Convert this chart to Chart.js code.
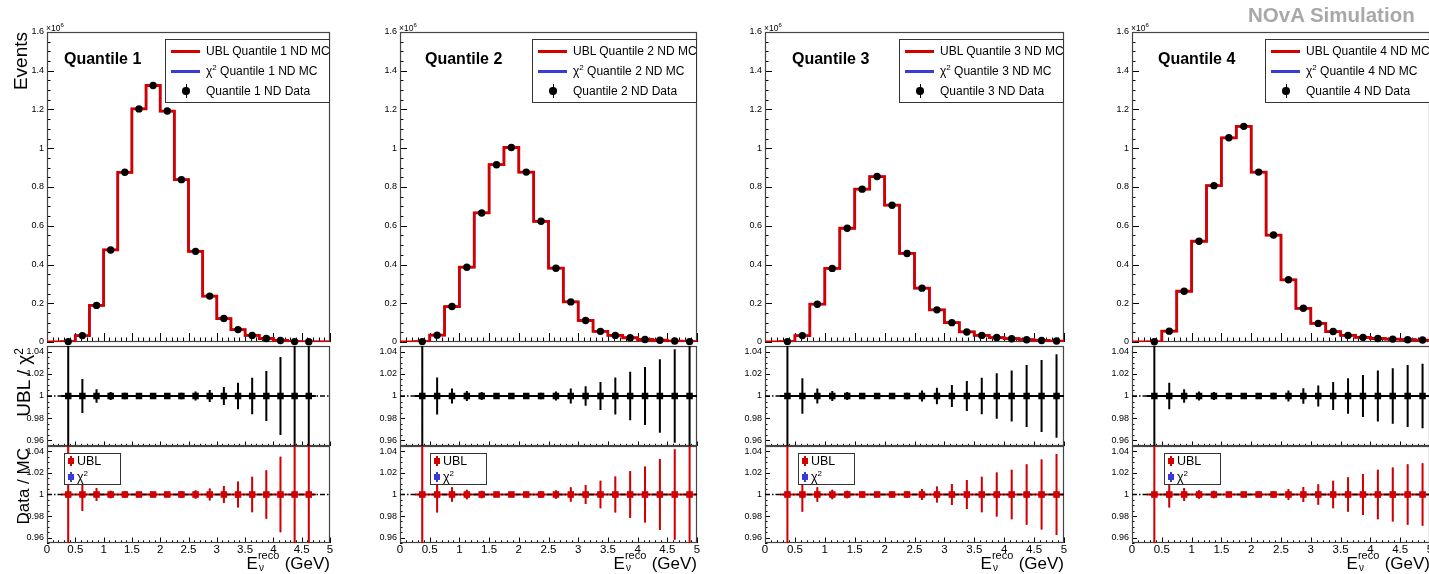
<!DOCTYPE html>
<html><head><meta charset="utf-8">
<script src="https://cdn.jsdelivr.net/npm/chart.js@4.4.1/dist/chart.umd.min.js"></script>
<style>
body{margin:0;width:1429px;height:574px;position:relative;overflow:hidden;background:#fff;font-family:"Liberation Sans",Arial,Helvetica,sans-serif;}
canvas{position:absolute;}
.t{position:absolute;white-space:nowrap;color:#000;}
.lg{position:absolute;box-sizing:border-box;border:1px solid #333;background:#fff;}
.a{position:absolute;}
.sp{font-size:8px;position:relative;top:-5px;}
</style></head><body>
<script>
const FONT = '"Liberation Sans", Arial, Helvetica, sans-serif';
const RED = '#d40000', BLUE = '#3a3ad6';

// ---- binning and axis ticks ----
const binEdges = [0,0.25,0.5,0.75,1,1.25,1.5,1.75,2,2.25,2.5,2.75,3,3.25,3.5,3.75,4,4.25,4.5,4.75,5];
const binCenters = [0.375,0.625,0.875,1.125,1.375,1.625,1.875,2.125,2.375,2.625,2.875,3.125,3.375,3.625,3.875,4.125,4.375,4.625,4.875];
const xTickValues = [0,0.5,1,1.5,2,2.5,3,3.5,4,4.5,5];
const xTickLabels = ['0','0.5','1','1.5','2','2.5','3','3.5','4','4.5','5'];
const topTickValues = [0,0.2,0.4,0.6,0.8,1,1.2,1.4,1.6];
const topTickLabels = ['0','0.2','0.4','0.6','0.8','1','1.2','1.4','1.6'];
const ratioTickValues = [0.96,0.98,1,1.02,1.04];
const ratioTickLabels = ['0.96','0.98','1','1.02','1.04'];
const quantileNames = ['Quantile 1','Quantile 2','Quantile 3','Quantile 4'];

// ---- MC predictions per bin (10^6 events) ----
const ublMC_Q1  = [0,0.002,0.033,0.189,0.475,0.876,1.203,1.324,1.192,0.838,0.468,0.237,0.121,0.064,0.034,0.018,0.008,0.002,0.001,0.0005];
const chi2MC_Q1 = [0,0.002,0.033,0.189,0.475,0.876,1.203,1.324,1.192,0.838,0.468,0.237,0.121,0.064,0.034,0.018,0.008,0.002,0.001,0.0005];
const ublMC_Q2  = [0,0.002,0.035,0.183,0.386,0.666,0.915,1.004,0.877,0.623,0.381,0.207,0.111,0.055,0.034,0.022,0.013,0.009,0.005,0.002];
const chi2MC_Q2 = [0,0.002,0.035,0.183,0.386,0.666,0.915,1.004,0.877,0.623,0.381,0.207,0.111,0.055,0.034,0.022,0.013,0.009,0.005,0.002];
const ublMC_Q3  = [0,0.002,0.033,0.195,0.380,0.587,0.789,0.854,0.706,0.457,0.278,0.166,0.100,0.052,0.034,0.023,0.017,0.012,0.008,0.005];
const chi2MC_Q3 = [0,0.002,0.033,0.195,0.380,0.587,0.789,0.854,0.706,0.457,0.278,0.166,0.100,0.052,0.034,0.023,0.017,0.012,0.008,0.005];
const ublMC_Q4  = [0,0.001,0.056,0.262,0.520,0.807,1.054,1.113,0.877,0.552,0.321,0.174,0.096,0.054,0.034,0.024,0.018,0.015,0.012,0.010];
const chi2MC_Q4 = [0,0.001,0.056,0.262,0.520,0.807,1.054,1.113,0.877,0.552,0.321,0.174,0.096,0.054,0.034,0.024,0.018,0.015,0.012,0.010];

// ---- ND data at bin centres (10^6 events) ----
const data_Q1 = [0.002,0.033,0.189,0.475,0.876,1.203,1.324,1.192,0.838,0.468,0.237,0.121,0.064,0.034,0.018,0.008,0.002,0.001];
const data_Q2 = [0.002,0.035,0.183,0.386,0.666,0.915,1.004,0.877,0.623,0.381,0.207,0.111,0.055,0.034,0.022,0.013,0.009,0.005,0.002];
const data_Q3 = [0.002,0.033,0.195,0.380,0.587,0.789,0.854,0.706,0.457,0.278,0.166,0.100,0.052,0.034,0.023,0.017,0.012,0.008,0.005];
const data_Q4 = [0.001,0.056,0.262,0.520,0.807,1.054,1.113,0.877,0.552,0.321,0.174,0.096,0.054,0.034,0.024,0.018,0.015,0.012,0.010];

// ---- ratios and their errors ----
const ratio_Q1 = [1,1,1,1,1,1,1,1,1,1,1,1,1,1,1,1,1,1];
const ratio_Q2 = [1,1,1,1,1,1,1,1,1,1,1,1,1,1,1,1,1,1,1];
const ratio_Q3 = [1,1,1,1,1,1,1,1,1,1,1,1,1,1,1,1,1,1,1];
const ratio_Q4 = [1,1,1,1,1,1,1,1,1,1,1,1,1,1,1,1,1,1,1];
const ratioErr_Q1 = [0.2,0.0152,0.006,0.0035,0.003,0.0015,0.0015,0.0018,0.003,0.004,0.0055,0.008,0.012,0.0165,0.0225,0.035,0.2,0.2];
const ratioErr_Q2 = [0.2,0.0167,0.0067,0.0045,0.0035,0.002,0.002,0.0025,0.003,0.004,0.0067,0.0088,0.0127,0.0167,0.0218,0.026,0.033,0.042,0.2];
const ratioErr_Q3 = [0.2,0.016,0.0067,0.0045,0.0035,0.0025,0.002,0.0025,0.003,0.005,0.0075,0.0098,0.0135,0.0165,0.0205,0.023,0.028,0.0325,0.0375];
const ratioErr_Q4 = [0.2,0.012,0.006,0.004,0.0035,0.002,0.002,0.0025,0.003,0.005,0.007,0.0095,0.0127,0.016,0.019,0.023,0.025,0.028,0.029];

const panels = [
  {q:quantileNames[0], ubl:ublMC_Q1, chi:chi2MC_Q1, data:data_Q1, r:ratio_Q1, e:ratioErr_Q1},
  {q:quantileNames[1], ubl:ublMC_Q2, chi:chi2MC_Q2, data:data_Q2, r:ratio_Q2, e:ratioErr_Q2},
  {q:quantileNames[2], ubl:ublMC_Q3, chi:chi2MC_Q3, data:data_Q3, r:ratio_Q3, e:ratioErr_Q3},
  {q:quantileNames[3], ubl:ublMC_Q4, chi:chi2MC_Q4, data:data_Q4, r:ratio_Q4, e:ratioErr_Q4}
];

// ---- layout ----
const cols = [
  {L:47,  R:330,  qx:64,   lx:64},
  {L:400, R:697,  qx:425,  lx:430},
  {L:765, R:1064, qx:792,  lx:798},
  {L:1132,R:1430, qx:1158, lx:1164}
];
const rows = {top:{T:32,B:342}, mid:{T:346,B:446}, bot:{T:446,B:543}};
const PL=44, PT=8, PR=8, PB=8, XH=20;

function histPoints(vals){const p=[];for(let i=0;i<vals.length;i++){p.push({x:binEdges[i],y:vals[i]});p.push({x:binEdges[i+1],y:vals[i]});}return p;}
function markerPoints(vals){return vals.map((v,i)=>({x:binCenters[i],y:v}));}
function vBars(vals,errs){const p=[];vals.forEach((v,i)=>{p.push({x:binCenters[i],y:v-errs[i]},{x:binCenters[i],y:v+errs[i]},{x:binCenters[i],y:null});});return p;}
function hBars(vals){const p=[];vals.forEach((v,i)=>{p.push({x:binEdges[i+1],y:v},{x:binEdges[i+2],y:v},{x:binCenters[i],y:null});});return p;}

function frameTicks(tk){
  return {id:'frameTicks', beforeDatasetsDraw(chart){
    const {ctx, chartArea:ca, scales:{x,y}} = chart;
    ctx.save();
    ctx.strokeStyle='#000'; ctx.lineWidth=1; ctx.beginPath();
    for(let i=0;i<=50;i++){
      const px=Math.round(x.getPixelForValue(i/10))+0.5;
      const len=(i%5===0)?tk.xMaj:tk.xMin;
      ctx.moveTo(px,ca.bottom); ctx.lineTo(px,ca.bottom-len);
    }
    for(let i=tk.i0;i<=tk.i1;i++){
      const py=Math.round(y.getPixelForValue(i*tk.step))+0.5;
      const len=(i%tk.every===0)?tk.yMaj:tk.yMin;
      ctx.moveTo(ca.left,py); ctx.lineTo(ca.left+len,py);
    }
    ctx.stroke();
    ctx.strokeStyle='#444'; ctx.lineWidth=1.2;
    ctx.strokeRect(Math.round(ca.left)+0.5,Math.round(ca.top)+0.5,Math.round(ca.right-ca.left)-1,Math.round(ca.bottom-ca.top)-1);
    ctx.restore();
  }};
}

function makePanel(col,rowName,datasets,ycfg){
  const r=rows[rowName]; const bot=rowName==='bot';
  const w=col.R-col.L+PL+PR, h=r.B-r.T+PT+(bot?XH:PB);
  const c=document.createElement('canvas');
  c.width=w; c.height=h;
  c.style.left=(col.L-PL)+'px'; c.style.top=(r.T-PT)+'px';
  c.style.width=w+'px'; c.style.height=h+'px';
  document.body.appendChild(c);
  new Chart(c,{
    type:'line',
    data:{datasets},
    options:{
      responsive:false, animation:false, devicePixelRatio:1, events:[],
      layout:{autoPadding:false, padding:{left:0,right:PR,top:PT,bottom:bot?0:PB}},
      plugins:{legend:{display:false},tooltip:{enabled:false},title:{display:false}},
      scales:{
        x:{type:'linear',min:0,max:5,
          afterBuildTicks:s=>{s.ticks=xTickValues.map(v=>({value:v}));},
          afterFit:s=>{s.height=bot?XH:0;s.paddingLeft=0;s.paddingRight=0;},
          grid:{display:false,drawTicks:false},border:{display:false},
          ticks:{display:bot,autoSkip:false,maxRotation:0,minRotation:0,padding:0,color:'#000',font:{family:FONT,size:11.5},callback:(v,i)=>xTickLabels[i]}},
        y:{type:'linear',min:ycfg.min,max:ycfg.max,
          afterBuildTicks:s=>{s.ticks=ycfg.ticks.map(v=>({value:v}));},
          afterFit:s=>{s.width=PL;s.paddingTop=0;s.paddingBottom=0;},
          grid:{display:false,drawTicks:false},border:{display:false},
          ticks:{autoSkip:false,padding:3,color:'#000',font:{family:FONT,size:9},callback:(v,i)=>ycfg.labels[i]}}
      }
    },
    plugins:[frameTicks(ycfg.tk)]
  });
}

const L0 = {type:'line',pointRadius:0,fill:false,tension:0,spanGaps:false};
const topY = {min:0,max:1.6,ticks:topTickValues,labels:topTickLabels,tk:{xMaj:9,xMin:4.5,yMaj:7,yMin:3.5,i0:0,i1:32,step:0.05,every:4}};
const midY = {min:0.955,max:1.045,ticks:ratioTickValues,labels:ratioTickLabels,tk:{xMaj:4.5,xMin:2.2,yMaj:5,yMin:2.5,i0:191,i1:209,step:0.005,every:4}};
const botY = {min:0.955,max:1.045,ticks:ratioTickValues,labels:ratioTickLabels,tk:{xMaj:5.5,xMin:2.7,yMaj:5,yMin:2.5,i0:191,i1:209,step:0.005,every:4}};
const refLine = [{x:binEdges[0],y:1},{x:binEdges[binEdges.length-1],y:1}];
const DASH=[5,2,1.5,2];

panels.forEach((p,ci)=>{
  const col=cols[ci];
  makePanel(col,'top',[
    Object.assign({},L0,{data:histPoints(p.ubl),borderColor:RED,borderWidth:2.8,order:2}),
    Object.assign({},L0,{data:histPoints(p.chi),borderColor:BLUE,borderWidth:2.2,order:3}),
    Object.assign({},L0,{data:markerPoints(p.data),showLine:false,pointRadius:3.7,pointStyle:'circle',backgroundColor:'#000',borderColor:'#000',borderWidth:0,order:1,clip:false})
  ],topY);
  makePanel(col,'mid',[
    Object.assign({},L0,{data:refLine,borderColor:'#000',borderWidth:1.4,borderDash:DASH,order:5}),
    Object.assign({},L0,{data:hBars(p.r),borderColor:'#000',borderWidth:2,order:4,clip:0}),
    Object.assign({},L0,{data:vBars(p.r,p.e),borderColor:'#000',borderWidth:2,order:3,clip:0}),
    Object.assign({},L0,{data:markerPoints(p.r),showLine:false,pointRadius:4.6,pointStyle:'rect',backgroundColor:'#000',borderWidth:0,order:1})
  ],midY);
  makePanel(col,'bot',[
    Object.assign({},L0,{data:hBars(p.r),borderColor:BLUE,borderWidth:1,order:9,clip:0}),
    Object.assign({},L0,{data:vBars(p.r,p.e),borderColor:BLUE,borderWidth:1,order:8,clip:0}),
    Object.assign({},L0,{data:markerPoints(p.r),showLine:false,pointRadius:4,pointStyle:'rect',backgroundColor:BLUE,borderWidth:0,order:7}),
    Object.assign({},L0,{data:hBars(p.r),borderColor:RED,borderWidth:2,order:6,clip:0}),
    Object.assign({},L0,{data:vBars(p.r,p.e),borderColor:RED,borderWidth:2,order:5,clip:0}),
    Object.assign({},L0,{data:refLine,borderColor:'#000',borderWidth:1.3,borderDash:DASH,order:4}),
    Object.assign({},L0,{data:markerPoints(p.r),showLine:false,pointRadius:4.6,pointStyle:'rect',backgroundColor:RED,borderWidth:0,order:3})
  ],botY);
});

// ---- text overlays ----
let H='';
panels.forEach((p,ci)=>{
  const col=cols[ci];
  H+=`<div class="t" style="left:${col.qx}px;top:50.5px;font-size:16px;line-height:16px;font-weight:bold">${p.q}</div>`;
  H+=`<div class="t" style="left:${col.L-1}px;top:23.5px;font-size:8.5px;line-height:9px">×10<span style="font-size:6px;position:relative;top:-3.5px">6</span></div>`;
  const bx=col.R-165;
  H+=`<div class="lg" style="left:${bx}px;top:39px;width:165px;height:64px"></div>`;
  H+=`<div class="a" style="left:${bx+6}px;top:49.5px;width:29px;height:3px;background:${RED}"></div>`;
  H+=`<div class="a" style="left:${bx+6}px;top:69.5px;width:29px;height:3px;background:${BLUE}"></div>`;
  H+=`<div class="a" style="left:${bx+20.5}px;top:84px;width:1px;height:14px;background:#000"></div>`;
  H+=`<div class="a" style="left:${bx+17.3}px;top:87.3px;width:7.4px;height:7.4px;border-radius:50%;background:#000"></div>`;
  H+=`<div class="t" style="left:${bx+41}px;top:44px;font-size:12px;line-height:14px">UBL ${p.q} ND MC</div>`;
  H+=`<div class="t" style="left:${bx+41}px;top:64px;font-size:12px;line-height:14px">χ<span class="sp">2</span> ${p.q} ND MC</div>`;
  H+=`<div class="t" style="left:${bx+41}px;top:84px;font-size:12px;line-height:14px">${p.q} ND Data</div>`;
  const lx=col.lx;
  H+=`<div class="lg" style="left:${lx}px;top:453px;width:57px;height:32px"></div>`;
  H+=`<div class="a" style="left:${lx+5.5}px;top:456px;width:2px;height:10px;background:${RED}"></div>`;
  H+=`<div class="a" style="left:${lx+3.5}px;top:458px;width:6px;height:6px;background:${RED}"></div>`;
  H+=`<div class="a" style="left:${lx+5.5}px;top:472px;width:2px;height:10px;background:${BLUE}"></div>`;
  H+=`<div class="a" style="left:${lx+3.5}px;top:474px;width:6px;height:6px;background:${BLUE}"></div>`;
  H+=`<div class="t" style="left:${lx+13}px;top:454px;font-size:12.5px;line-height:14px">UBL</div>`;
  H+=`<div class="t" style="left:${lx+13}px;top:470px;font-size:12.5px;line-height:14px">χ<span class="sp">2</span></div>`;
  H+=`<div class="t" style="left:${col.R-220}px;width:220px;text-align:right;top:554.6px;font-size:17px;line-height:17px">E<span style="display:inline-block;position:relative;width:22px;height:1px"><span style="position:absolute;left:0;top:-18px;font-size:11px;line-height:11px">reco</span><span style="position:absolute;left:1px;top:-4.5px;font-size:10px;line-height:10px">ν</span></span> (GeV)</div>`;
});
// y titles (rotated)
H+=`<div class="t" style="left:11px;top:152px;width:120px;text-align:right;font-size:19px;line-height:19px;transform:rotate(-90deg);transform-origin:left top">Events</div>`;
H+=`<div class="t" style="left:14px;top:468px;width:120px;text-align:right;font-size:19px;line-height:19px;transform:rotate(-90deg);transform-origin:left top">UBL / χ<span style="font-size:12px;position:relative;top:-7px">2</span></div>`;
H+=`<div class="t" style="left:14.5px;top:568px;width:120px;text-align:right;font-size:17px;line-height:17px;transform:rotate(-90deg);transform-origin:left top">Data / MC</div>`;
H+=`<div class="t" style="left:1248px;top:5px;font-size:20.5px;line-height:20.5px;font-weight:bold;color:#a8a8a8">NOvA Simulation</div>`;
document.body.insertAdjacentHTML('beforeend',H);
</script>
</body></html>
